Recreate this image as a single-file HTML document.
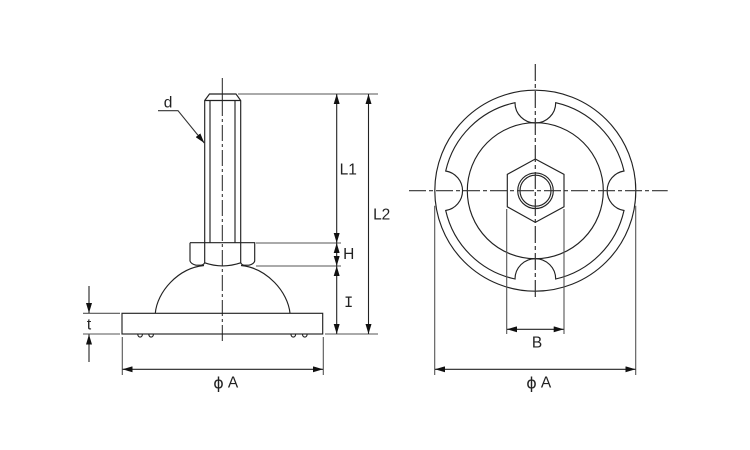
<!DOCTYPE html>
<html><head><meta charset="utf-8"><style>
html,body{margin:0;padding:0;background:#fff}
svg{display:block;filter:blur(.35px)}
text{font-family:"Liberation Sans",sans-serif;font-size:15.5px;fill:#222;text-anchor:middle;dominant-baseline:central}
</style></head><body>
<svg width="750" height="450" viewBox="0 0 750 450" xmlns="http://www.w3.org/2000/svg">
<defs>
<marker id="a" viewBox="0 0 10 6" refX="10" refY="3" markerWidth="10" markerHeight="6" markerUnits="userSpaceOnUse" orient="auto-start-reverse"><path d="M0 0L10 3L0 6Z" fill="#111"/></marker>
</defs>
<g fill="none" stroke="#222" stroke-width="1.15">
<path d="M204.700 242.700V100.500L209.500 94H236L240.700 100.500V242.700"/>
<path d="M204.700 100.500H240.700M210 100.500V242.700M235 100.500V242.700"/>
<path d="M190 242.700H254.700V261Q254 264 249 265.200H245Q242 265.500 240.700 262.800"/>
<path d="M190 242.700V261Q191 264 196 265.200H200Q203 265.500 204.700 262.800"/>
<path d="M204.700 242.700V262.800Q222.500 269 240.700 262.800V242.700"/>
<path d="M155.300 313.300C157 292 178 268 204 265.500M241 265.500C267 268 288 292 290 313.300"/>
<rect x="122" y="313.300" width="200.700" height="20.700"/>
<path d="M137.800 334.300a2.300 2.800 0 0 0 4.600 0M148.800 334.300a2.300 2.800 0 0 0 4.600 0M291 334.300a2.300 2.800 0 0 0 4.600 0M302.500 334.300a2.300 2.800 0 0 0 4.600 0"/>
</g>
<path d="M222.300 78V100" stroke="#222"/>
<path d="M222.300 100V343" stroke="#222" stroke-dasharray="16 3 3 3"/>
<g fill="none" stroke="#333" stroke-width="1.100">
<path d="M158 110.700H178L204.300 143" marker-end="url(#a)"/>
</g>
<g fill="none" stroke="#555" stroke-width="1.100">
<path d="M238 94H378M256 243H341M256 266H341M325 334H378"/>
<path d="M83 313.300H120M83 334H120"/>
<path d="M122.300 337V375M323.300 337V375"/>
</g>
<g fill="none" stroke="#222" stroke-width="1.100">
<path d="M336.700 94V243" marker-start="url(#a)" marker-end="url(#a)"/>
<path d="M336.700 243V266" marker-start="url(#a)" marker-end="url(#a)"/>
<path d="M336.700 266V334" marker-start="url(#a)" marker-end="url(#a)"/>
<path d="M368.500 94V334" marker-start="url(#a)" marker-end="url(#a)"/>
<path d="M89 286V313" marker-end="url(#a)"/>
<path d="M89 362V334.500" marker-end="url(#a)"/>
<path d="M122.500 369.300H323" marker-start="url(#a)" marker-end="url(#a)"/>
</g>
<g fill="none" stroke="#222" stroke-width="1.150">
<circle cx="535.300" cy="190.700" r="100.500"/>
<circle cx="535.300" cy="190.700" r="68"/>
<path d="M515 102.700A20 20 0 0 0 555.700 102.700A90.500 90.500 0 0 1 624 171A20 20 0 0 0 624 210.500A90.500 90.500 0 0 1 555.700 279A20 20 0 0 0 515 279A90.500 90.500 0 0 1 445.700 210.500A20 20 0 0 0 445.700 171A90.500 90.500 0 0 1 515 102.700Z"/>
<path d="M535.300 159L564 174.400V206.800L535.300 222.400L507.300 206.800V174.400Z"/>
<circle cx="535.500" cy="190.700" r="17.800"/>
<circle cx="535.500" cy="190.700" r="15.500"/>
</g>
<path d="M409 190.700H667.700" fill="none" stroke="#333" stroke-width="1.200" stroke-dasharray="17 3 4 3"/>
<path d="M535.300 64V298.700" fill="none" stroke="#333" stroke-width="1.200" stroke-dasharray="17 3 4 3"/>
<g fill="none" stroke="#555" stroke-width="1.100">
<path d="M434.700 205.700V375M635.700 205.700V375M506.700 209V334M564 209V334"/>
</g>
<g fill="none" stroke="#222" stroke-width="1.100">
<path d="M507 329.300H563.700" marker-start="url(#a)" marker-end="url(#a)"/>
<path d="M435 369.300H635.500" marker-start="url(#a)" marker-end="url(#a)"/>
</g>
<text x="168" y="103">d</text>
<text x="348.300" y="170">L1</text>
<text x="381.700" y="215">L2</text>
<text x="348.700" y="254.700">H</text>
<text x="348.700" y="303" style="font-family:'Liberation Mono',monospace">I</text>
<text x="89" y="325">t</text>
<text x="537" y="343">B</text>
<text x="218.500" y="383" style="font-family:'DejaVu Sans',sans-serif;font-size:16px">ϕ</text>
<text x="233" y="383">A</text>
<text x="531.500" y="383" style="font-family:'DejaVu Sans',sans-serif;font-size:16px">ϕ</text>
<text x="546" y="383">A</text>
</svg>
</body></html>
